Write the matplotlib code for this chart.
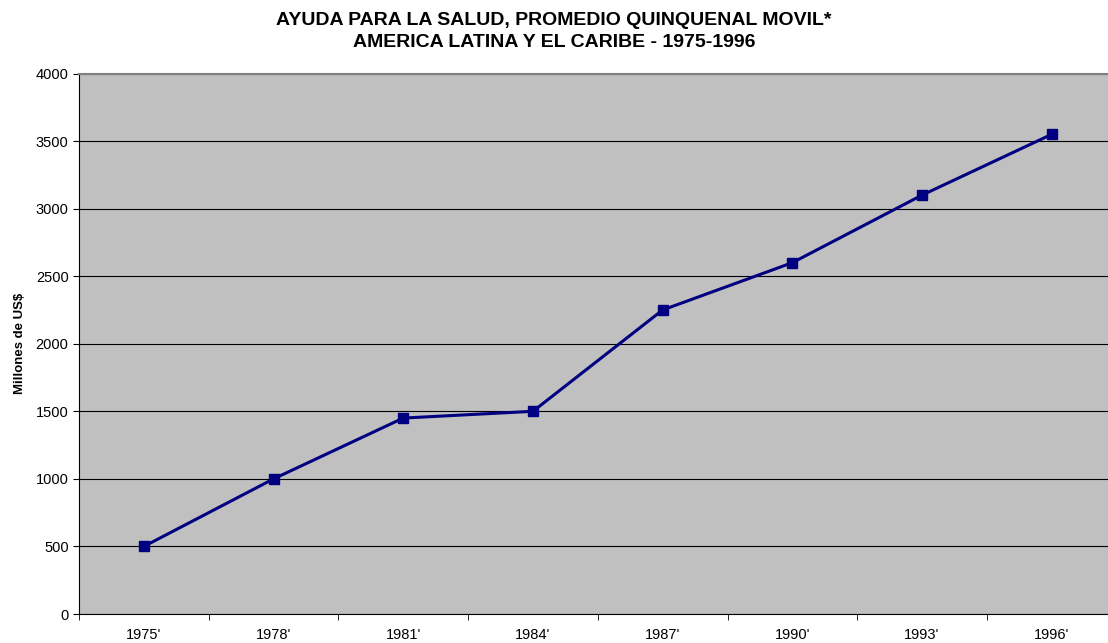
import matplotlib.pyplot as plt
import numpy as np

# Data
years = ["1975'", "1978'", "1981'", "1984'", "1987'", "1990'", "1993'", "1996'"]
values = [500, 1000, 1450, 1500, 2250, 2600, 3100, 3550]

plt.rcParams['font.family'] = ['Liberation Sans', 'DejaVu Sans']

fig = plt.figure(figsize=(11.08, 6.43), dpi=100)
ax = fig.add_axes([79 / 1108, 29 / 643, 1037.6 / 1108, 540.5 / 643])
ax.set_facecolor('#C0C0C0')

x = np.arange(len(years))
ax.plot(x, values, color='#000080', lw=2.2, marker='s', markersize=7,
        markerfacecolor='#000080', markeredgecolor='#000080', zorder=3)

ax.set_xlim(-0.5, len(years) - 0.5)
ax.set_ylim(0, 4000)
ax.set_yticks(range(0, 4001, 500))
ax.yaxis.grid(True, color='black', lw=0.8)
ax.set_axisbelow(True)

ax.set_xticks(x)
ax.set_xticklabels(years, fontsize=10.5)
ax.set_xticks(np.arange(-0.5, len(years)), minor=True)
ax.tick_params(axis='x', which='major', length=0, pad=10)
ax.tick_params(axis='x', which='minor', length=4, direction='out', color='black')
ax.tick_params(axis='y', length=4, direction='out', labelsize=10.5, color='black')

ax.spines['top'].set_color('#808080')
ax.spines['top'].set_linewidth(1.5)
ax.spines['right'].set_visible(False)
ax.spines['left'].set_color('black')
ax.spines['bottom'].set_color('black')

ax.set_ylabel('Millones de US$', fontsize=9.5, fontweight='bold', labelpad=7)

fig.text(0.5, 0.982, 'AYUDA PARA LA SALUD, PROMEDIO QUINQUENAL MOVIL*\nAMERICA LATINA Y EL CARIBE - 1975-1996',
         ha='center', va='top', fontsize=14, fontweight='bold', linespacing=1.45)

fig.savefig('out.png', dpi=100)
